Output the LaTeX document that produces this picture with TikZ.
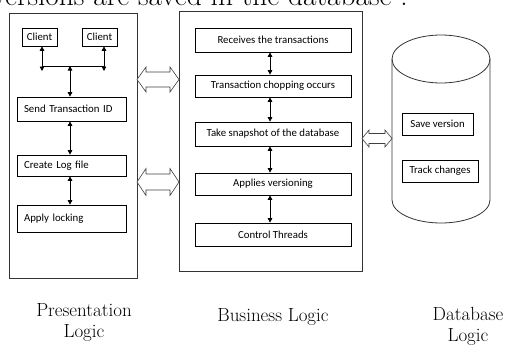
\documentclass[tikz,border=0pt]{standalone}
\usepackage{fontspec}
\newfontfamily\boxfont{Carlito}
\usetikzlibrary{arrows.meta}
\begin{document}
\begin{tikzpicture}[x=1pt,y=-1pt,
  panel/.style={draw=black!80, line width=0.8pt, inner sep=0pt},
  box/.style={draw=black, line width=0.7pt, inner sep=0pt, font=\boxfont\fontsize{10.8}{12}\selectfont},
  lbox/.style={box, align=left, text width=#1},
  dbl/.style={line width=0.8pt, {Triangle[length=4.5pt,width=4.5pt]}-{Triangle[length=4.5pt,width=4.5pt]}},
  hollow/.style={draw=black!75, line width=0.6pt, fill=white},
  lbl/.style={font=\fontsize{19}{21}\selectfont, align=center}]
\useasboundingbox (0,0) rectangle (505,345);
\begin{scope}
\clip (0,0) rectangle (505,345);
% cut-off caption line at the top
\node[anchor=base east, inner sep=0pt] (cap) at (408,5.5) {\resizebox{416pt}{!}{\fontsize{18}{20}\selectfont versions are saved in the database .}};

% Left panel
\node[panel, minimum width=128pt, minimum height=265pt] (P) at (73,145.5) {};
\node[box, minimum width=35pt, minimum height=18pt] (c1) at (39.5,37) {Client};
\node[box, minimum width=35pt, minimum height=18pt] (c2) at (99.5,37) {Client};
\node[lbox=95pt, minimum height=24pt, inner xsep=7pt] (send) at (71.5,109) {Send Transaction ID};
\node[lbox=95pt, minimum height=21pt, inner xsep=7pt] (create) at (71.5,165.5) {Create Log file};
\node[lbox=95pt, minimum height=27pt, inner xsep=7pt] (lock) at (71.5,218.5) {Apply locking\\[4pt]};

\coordinate (j1) at (42,66);
\coordinate (j2) at (104,66);
\coordinate (jm) at (70,66);
\coordinate (e1) at (42,71);
\coordinate (e2) at (104,71);
\draw[line width=0.8pt] (j1) -- (j2);
\draw[dbl] (c1.south -| e1) -- (e1);
\draw[dbl] (c2.south -| e2) -- (e2);
\draw[dbl] (jm) -- (send.north -| jm);
\draw[dbl] (send.south -| jm) -- (create.north -| jm);
\draw[dbl] (create.south -| jm) -- (lock.north -| jm);

% Middle panel
\node[panel, minimum width=183pt, minimum height=260pt] (B) at (270.5,141) {};
\node[box, minimum width=156pt, minimum height=24pt] (r1) at (273,40) {Receives the transactions};
\node[box, minimum width=156pt, minimum height=22pt] (r2) at (273,86) {Transaction chopping occurs};
\node[box, minimum width=156pt, minimum height=24pt] (r3) at (273,134) {Take snapshot of the database};
\node[box, minimum width=156pt, minimum height=22pt] (r4) at (273,184) {Applies versioning};
\node[box, minimum width=156pt, minimum height=23pt] (r5) at (273,234.5) {Control Threads};
\coordinate (ax) at (270,0);
\draw[dbl] (r1.south -| ax) -- (r2.north -| ax);
\draw[dbl] (r2.south -| ax) -- (r3.north -| ax);
\draw[dbl] (r3.south -| ax) -- (r4.north -| ax);
\draw[dbl] (r4.south -| ax) -- (r5.north -| ax);

% Database cylinder
\draw[draw=black!80, line width=0.8pt] (392,59) -- (392,200) arc[start angle=180, end angle=360, x radius=49, y radius=-23] -- (490,59);
\draw[draw=black!80, line width=0.8pt] (441,59) ellipse[x radius=49, y radius=24];
\node[box, minimum width=71pt, minimum height=22pt] (sv) at (437.5,124) {Save version};
\node[box, minimum width=76pt, minimum height=22pt] (tc) at (440,171) {Track changes};

% Hollow double arrows
\draw[hollow] (137,79.5) -- (146,67) -- (146,72) -- (170,72) -- (170,67) -- (179,79.5) -- (170,92) -- (170,87) -- (146,87) -- (146,92) -- cycle;
\draw[hollow] (137,182) -- (146,168.5) -- (146,174) -- (170,174) -- (170,168.5) -- (179,182) -- (170,195.5) -- (170,190) -- (146,190) -- (146,195.5) -- cycle;
\draw[hollow] (362,138.5) -- (369,130) -- (369,133.5) -- (385,133.5) -- (385,130) -- (392,138.5) -- (385,147) -- (385,143.5) -- (369,143.5) -- (369,147) -- cycle;

% Tier labels
\node[lbl, anchor=base] (lp) at (84,337) {Presentation\\Logic};
\node[lbl, anchor=base] (lb) at (273,321) {Business Logic};
\node[lbl, anchor=base] (ld) at (468,341) {Database\\Logic};
\end{scope}
\end{tikzpicture}
\end{document}
